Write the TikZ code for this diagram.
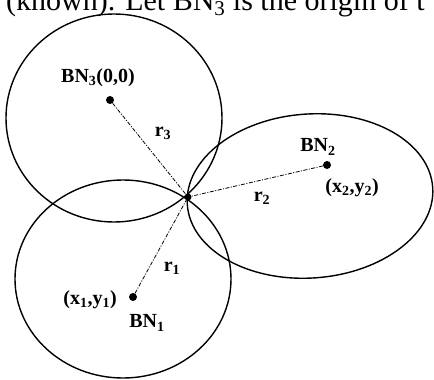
\documentclass[tikz,border=0pt]{standalone}
\usepackage{fontspec}
\setmainfont{Liberation Serif}
\begin{document}
\begin{tikzpicture}[x=1pt,y=-1pt,
  ring/.style={line width=1.4pt, black},
  radline/.style={line width=0.8pt, dash pattern=on 4pt off 1.5pt on 1pt off 1.5pt},
  dot/.style={circle, fill=black, inner sep=0pt, minimum size=8pt},
  lbl/.style={font=\bfseries\fontsize{20}{20}\selectfont, inner sep=0pt}]
\useasboundingbox (0,0) rectangle (434,380);
\begin{scope}
\clip (0,0) rectangle (434,380);
\node[anchor=base west, inner sep=0pt, font=\fontsize{30}{30}\selectfont] (toptext) at (6,10) {(known). Let BN\textsubscript{3} is the origin of t};
\draw[ring] (114,118) ellipse [x radius=108pt, y radius=104pt];
\draw[ring] (123,279) ellipse [x radius=108pt, y radius=99pt];
\draw[ring, rotate around={4:(310,196)}] (310,196) ellipse [x radius=123pt, y radius=82pt];
\end{scope}
\node[dot] (bn3) at (110,100) {};
\node[dot] (bn1) at (133,297) {};
\node[dot] (bn2) at (327,165) {};
\node[dot, minimum size=7pt] (p) at (188,197) {};
\draw[radline] (bn3) -- (p);
\draw[radline] (bn2) -- (p);
\draw[radline] (bn1) -- (p);
\node[lbl] (l3) at (98,78) {BN\textsubscript{3}(0,0)};
\node[lbl] (r3) at (163,133) {r\textsubscript{3}};
\node[lbl] (l2) at (318,147) {BN\textsubscript{2}};
\node[lbl] (c2) at (352,188) {(x\textsubscript{2},y\textsubscript{2})};
\node[lbl] (r2) at (262,198) {r\textsubscript{2}};
\node[lbl] (r1) at (172,268) {r\textsubscript{1}};
\node[lbl] (c1) at (90,300) {(x\textsubscript{1},y\textsubscript{1})};
\node[lbl] (l1) at (147,323) {BN\textsubscript{1}};
\end{tikzpicture}
\end{document}
